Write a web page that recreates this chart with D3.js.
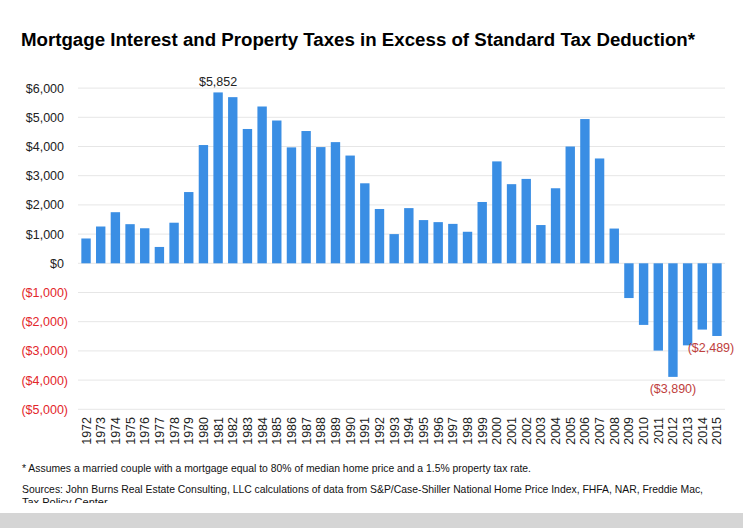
<!DOCTYPE html>
<html>
<head>
<meta charset="utf-8">
<script src="https://cdn.jsdelivr.net/npm/d3@7"></script>
<style>
  html, body { margin: 0; padding: 0; background: #ffffff; }
  svg { display: block; font-family: "Liberation Sans", Arial, sans-serif; }
</style>
</head>
<body>
<svg id="chart" width="743" height="528"></svg>
<script>
const years = [1972,1973,1974,1975,1976,1977,1978,1979,1980,1981,1982,1983,1984,1985,1986,1987,1988,1989,1990,1991,1992,1993,1994,1995,1996,1997,1998,1999,2000,2001,2002,2003,2004,2005,2006,2007,2008,2009,2010,2011,2012,2013,2014,2015];
const values = [850,1260,1750,1340,1200,560,1390,2440,4050,5852,5690,4600,5370,4890,3970,4530,3980,4150,3690,2740,1860,1000,1890,1480,1410,1350,1080,2100,3490,2710,2890,1310,2570,4000,4940,3590,1190,-1190,-2110,-2990,-3890,-2810,-2270,-2489];
const yTicks = [-5000,-4000,-3000,-2000,-1000,0,1000,2000,3000,4000,5000,6000];
const labelledYears = [1981, 2012, 2015];
const titleText = "Mortgage Interest and Property Taxes in Excess of Standard Tax Deduction*";
const footnotes = [
  "* Assumes a married couple with a mortgage equal to 80% of median home price and a 1.5% property tax rate.",
  "Sources: John Burns Real Estate Consulting, LLC calculations of data from S&P/Case-Shiller National Home Price Index, FHFA, NAR, Freddie Mac,",
  "Tax Policy Center"
];

const svg = d3.select("#chart");
svg.append("rect").attr("x",0).attr("y",0).attr("width",743).attr("height",528).attr("fill","#ffffff");

const fmt = v => {
  const s = "$" + d3.format(",")(Math.abs(v));
  return v < 0 ? "(" + s + ")" : s;
};

const x = d3.scaleBand().domain(years).range([78.7, 724.3]).paddingInner(0.36).paddingOuter(0.18);
const y = d3.scaleLinear().domain([-5000, 6000]).range([409.3, 88.1]);

// title
svg.append("text")
  .attr("x", 21).attr("y", 46)
  .attr("font-size", 18).attr("font-weight", "bold").attr("fill", "#000")
  .attr("textLength", 674).attr("lengthAdjust", "spacingAndGlyphs")
  .text(titleText);

// gridlines
svg.append("g").selectAll("line").data(yTicks).join("line")
  .attr("x1", 78).attr("x2", 725)
  .attr("y1", d => y(d)).attr("y2", d => y(d))
  .attr("stroke", "#e6e6e6").attr("stroke-width", 1);

// y axis labels
const yAxis = d3.axisLeft(y).tickValues(yTicks).tickSize(0).tickPadding(0).tickFormat(fmt);
const gy = svg.append("g").attr("transform", "translate(68,0)").call(yAxis);
gy.select(".domain").remove();
gy.selectAll("text")
  .attr("font-family", "Liberation Sans, Arial, sans-serif")
  .attr("font-size", 12.5)
  .attr("fill", d => d < 0 ? "#e3262b" : "#222")
  .attr("dx", d => d < 0 ? 0 : -4);

// bars
svg.append("g").selectAll("rect").data(years).join("rect")
  .attr("x", d => x(d))
  .attr("width", x.bandwidth())
  .attr("y", (d,i) => y(Math.max(0, values[i])))
  .attr("height", (d,i) => Math.abs(y(values[i]) - y(0)))
  .attr("fill", "#3a8ee4");

// x axis labels
const xAxis = d3.axisBottom(x).tickSize(0).tickPadding(0);
const gx = svg.append("g").attr("transform", "translate(0,417)").call(xAxis);
gx.select(".domain").remove();
gx.selectAll("text")
  .attr("font-family", "Liberation Sans, Arial, sans-serif")
  .attr("font-size", 12.5).attr("fill", "#222")
  .attr("text-anchor", "end")
  .attr("transform", "rotate(-90)")
  .attr("x", 0).attr("y", 0).attr("dy", "0.36em");

// data labels
const lab = svg.append("g");
labelledYears.forEach(yr => {
  const i = years.indexOf(yr);
  const v = values[i];
  const cx = x(yr) + x.bandwidth()/2;
  if (v >= 0) {
    lab.append("text").attr("x", cx).attr("y", y(v) - 6)
      .attr("text-anchor", "middle").attr("font-size", 12.5).attr("fill", "#222")
      .text(fmt(v));
  } else {
    const shift = yr === 2015 ? -6 : 0;
    lab.append("text").attr("x", cx + shift).attr("y", y(v) + 16)
      .attr("text-anchor", "middle").attr("font-size", 12.5).attr("fill", "#c0403c")
      .text(fmt(v));
  }
});

// footnotes
svg.append("clipPath").attr("id", "fnclip").append("rect")
  .attr("x", 0).attr("y", 455).attr("width", 743).attr("height", 48);
const fn = svg.append("g").attr("clip-path", "url(#fnclip)");
const fnY = [472, 493, 506];
const fnLen = [509, 681, null];
footnotes.forEach((t, i) => {
  const el = fn.append("text").attr("x", 22).attr("y", fnY[i])
    .attr("font-size", 11).attr("fill", "#111").text(t);
  if (fnLen[i]) el.attr("textLength", fnLen[i]).attr("lengthAdjust", "spacingAndGlyphs");
});

// bottom gray strip
svg.append("rect").attr("x", 0).attr("y", 513).attr("width", 743).attr("height", 15).attr("fill", "#d5d5d5");
</script>
</body>
</html>
